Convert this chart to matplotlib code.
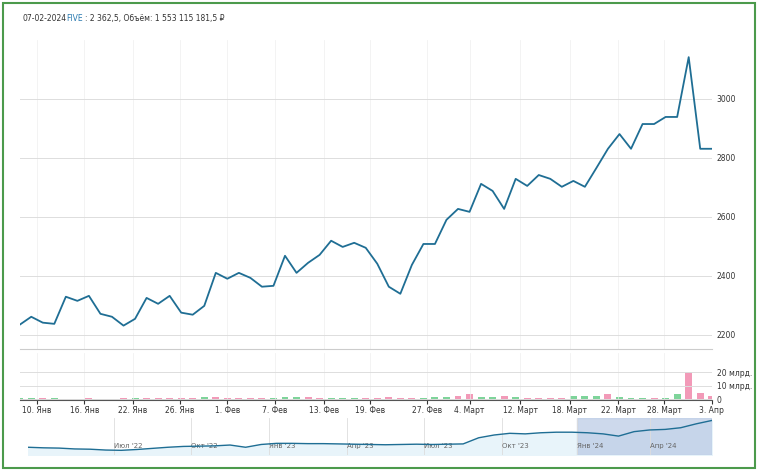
import matplotlib.pyplot as plt
import numpy as np
from matplotlib.patches import Rectangle

# daily closes, Jan - early Apr 2024
prices = [2234, 2261, 2241, 2237, 2329, 2315, 2332, 2271, 2261, 2231, 2254, 2325,
          2305, 2332, 2275, 2268, 2298, 2410, 2390, 2410, 2393, 2363, 2366, 2468,
          2410, 2444, 2471, 2519, 2498, 2512, 2495, 2441, 2363, 2339, 2437, 2508,
          2508, 2590, 2627, 2617, 2712, 2688, 2627, 2729, 2705, 2742, 2729, 2702,
          2722, 2702, 2766, 2831, 2881, 2831, 2915, 2915, 2939, 2939, 3142, 2831, 2831]
# volume, bln rub (rough)
volumes = [0.8, 1.0, 0.9, 0.4, 0.3, 0.3, 0.4, 0.3, 0.3, 0.4, 0.8, 1.0, 1.0, 1.0, 0.4, 0.5,
           1.8, 1.5, 1.0, 1.0, 1.0, 0.5, 0.6, 1.5, 1.5, 1.4, 1.0, 1.0, 0.5, 0.4, 0.4, 0.6,
           1.2, 0.8, 0.8, 1.0, 1.2, 1.5, 2.5, 3.5, 1.2, 1.5, 2.0, 1.2, 0.8, 0.5, 0.8, 1.0,
           2.2, 2.3, 2.0, 3.5, 1.2, 0.9, 1.0, 0.8, 0.8, 3.5, 20.0, 4.5, 2.5]
# g = green bar, r = pink bar (as shown)
vol_dir = ('ggrgrrrrrr' 'grrrrrgrrr' 'rrgggrrggg' 'rrrrrgggrr'
           'ggrgrrrrgg' 'grgggrggrr' 'r')
tick_pos = [1.5, 5.6, 9.8, 13.9, 18, 22.1, 26.4, 30.4, 35.3, 39, 43.4, 47.7, 51.9, 55.9, 60]
tick_labels = ['10. Янв', '16. Янв', '22. Янв', '26. Янв', '1. Фев', '7. Фев', '13. Фев',
               '19. Фев', '27. Фев', '4. Март', '12. Март', '18. Март', '22. Март',
               '28. Март', '3. Апр']
# navigator: long history (approx levels)
nav_hist = [1880, 1870, 1865, 1850, 1845, 1830, 1825, 1840, 1860, 1880, 1895, 1900,
            1905, 1920, 1880, 1930, 1950, 1950, 1945, 1945, 1940, 1935, 1930, 1925,
            1930, 1935, 1930, 1935, 1940, 2050, 2100, 2130, 2120, 2140, 2150, 2150,
            2140, 2120, 2080, 2160, 2190, 2200, 2230, 2300, 2360]
nav_labels = ["Июл '22", "Окт '22", "Янв '23", "Апр '23", "Июл '23", "Окт '23", "Янв '24", "Апр '24"]
nav_ticks = [5.5, 10.5, 15.5, 20.5, 25.5, 30.5, 35.3, 40]

blue = '#1f6e94'
fig = plt.figure(figsize=(7.58, 4.71), dpi=100)
fig.patches.append(Rectangle((0.004, 0.006), 0.992, 0.988, transform=fig.transFigure,
                             fill=False, edgecolor='#4c9a4c', lw=1.5))
fig.text(0.03, 0.955, '07-02-2024', fontsize=5.5, color='#333')
fig.text(0.088, 0.955, 'FIVE', fontsize=5.5, color='#2a7ab0')
fig.text(0.112, 0.955, ': 2 362,5, Объём: 1 553 115 181,5 ₽', fontsize=5.5, color='#333')

x = np.arange(len(prices))
ax = fig.add_axes([0.026, 0.258, 0.913, 0.657])
ax.plot(x, prices, color=blue, lw=1.3)
ax.set_xlim(0, len(prices) - 1)
ax.set_ylim(2150, 3200)
ax.set_yticks([2200, 2400, 2600, 2800, 3000])
ax.yaxis.tick_right()
ax.tick_params(axis='y', length=0, labelsize=5.5, colors='#333')
ax.set_xticks(tick_pos)
ax.tick_params(axis='x', length=0, labelbottom=False)
ax.grid(axis='y', color='#ddd', lw=0.7)
ax.grid(axis='x', color='#eee', lw=0.5)
for s in ax.spines.values():
    s.set_visible(False)
ax.spines['bottom'].set_visible(True)
ax.spines['bottom'].set_color('#ccc')

axv = fig.add_axes([0.026, 0.15, 0.913, 0.1])
colors = ['#7ed49a' if c == 'g' else '#f29ab8' for c in vol_dir]
axv.bar(x, volumes, width=0.6, color=colors)
axv.set_xlim(ax.get_xlim())
axv.set_ylim(-1, 34)
axv.set_yticks([0, 10, 20])
axv.set_yticklabels(['0', '10 млрд.', '20 млрд.'])
axv.yaxis.tick_right()
axv.tick_params(axis='y', length=0, labelsize=5.5, colors='#333')
axv.set_xticks(tick_pos)
axv.set_xticklabels(tick_labels)
axv.tick_params(axis='x', length=3, labelsize=5.5, colors='#333', pad=1)
axv.grid(axis='y', color='#ddd', lw=0.7)
axv.grid(axis='x', color='#eee', lw=0.5)
for s in axv.spines.values():
    s.set_visible(False)
axv.spines['bottom'].set_visible(True)
axv.spines['bottom'].set_color('#555')

axn = fig.add_axes([0.037, 0.035, 0.902, 0.077])
xn = np.arange(len(nav_hist))
axn.plot(xn, nav_hist, color=blue, lw=1.0)
axn.fill_between(xn, nav_hist, 1700, color='#e8f4fa')
axn.axvspan(35.3, 44, color='#b8c9e4', alpha=0.7)
axn.set_xlim(0, 44)
axn.set_ylim(1750, 2400)
axn.set_xticks(nav_ticks)
axn.set_xticklabels(nav_labels, ha='left')
axn.tick_params(axis='x', length=0, labelsize=5, colors='#666', pad=-8)
axn.set_yticks([])
axn.grid(axis='x', color='#ddd', lw=0.6)
for s in axn.spines.values():
    s.set_visible(False)

fig.savefig('out.png', dpi=100)
